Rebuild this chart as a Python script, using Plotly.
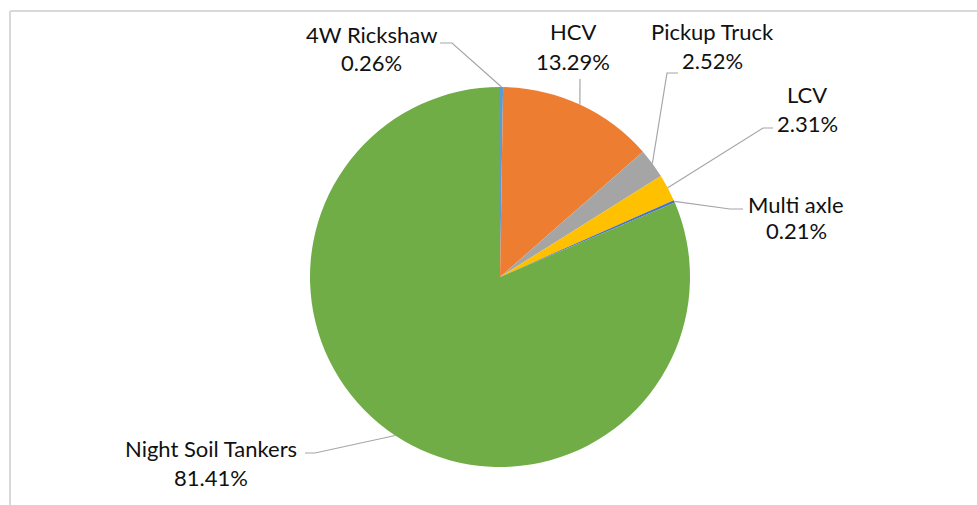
import math
import plotly.graph_objects as go

# ---- data ----
categories = ["4W Rickshaw", "HCV", "Pickup Truck", "LCV", "Multi axle", "Night Soil Tankers"]
shares = [0.26, 13.29, 2.52, 2.31, 0.21, 81.41]
colors = ["#5B9BD5", "#ED7D31", "#A5A5A5", "#FFC000", "#4472C4", "#70AD47"]

# ---- layout (pixels) ----
W, H = 977, 505
CX, CY, R = 500, 277, 190
# label centres (x, name line y, value line y) and leader elbow / end points
label_pos = {
    "4W Rickshaw": (371, 35, 62, [(452, 43), (440, 43)]),
    "HCV": (573, 32, 61, [(580, 79)]),
    "Pickup Truck": (712, 32, 60, [(667, 73), (678, 73)]),
    "LCV": (807, 95, 123, [(763, 128), (773, 128)]),
    "Multi axle": (796, 204, 231, [(730, 209), (743, 209)]),
    "Night Soil Tankers": (211, 448, 477, [(315, 453), (305, 453)]),
}

def px(x):
    return x / W

def py(y):
    return (H - y) / H

fig = go.Figure()
fig.add_trace(go.Pie(
    labels=categories, values=shares, sort=False, direction="clockwise",
    rotation=0, marker=dict(colors=colors, line=dict(width=0)),
    textinfo="none", hoverinfo="label+percent", showlegend=False,
    domain=dict(x=[px(CX - R), px(CX + R)], y=[py(CY + R), py(CY - R)]),
))

total = sum(shares)
cum = 0.0
shapes = []
annotations = []
font = dict(family="Lato, 'Open Sans', sans-serif", size=22, color="#111111")
for name, v in zip(categories, shares):
    mid = (cum + v / 2) / total * 2 * math.pi
    cum += v
    ex = CX + R * math.sin(mid)
    ey = CY - R * math.cos(mid)
    lx, ly1, ly2, pts = label_pos[name]
    path = f"M {px(ex)},{py(ey)}" + "".join(f" L {px(a)},{py(b)}" for a, b in pts)
    shapes.append(dict(type="path", xref="paper", yref="paper", path=path,
                       line=dict(color="#A6A6A6", width=1.2)))
    annotations.append(dict(x=px(lx), y=py(ly1), xref="paper", yref="paper",
                            text=name, showarrow=False, font=font,
                            xanchor="center", yanchor="middle"))
    annotations.append(dict(x=px(lx), y=py(ly2), xref="paper", yref="paper",
                            text=f"{v / total * 100:.2f}%", showarrow=False, font=font,
                            xanchor="center", yanchor="middle"))

# chart frame (top and left edges visible)
shapes.append(dict(type="line", xref="paper", yref="paper", x0=px(10), y0=py(11),
                   x1=1, y1=py(11), line=dict(color="#D9D9D9", width=2)))
shapes.append(dict(type="line", xref="paper", yref="paper", x0=px(10), y0=py(11),
                   x1=px(10), y1=0, line=dict(color="#D9D9D9", width=2)))

fig.update_layout(
    width=W, height=H, margin=dict(l=0, r=0, t=0, b=0),
    paper_bgcolor="white", plot_bgcolor="white",
    shapes=shapes, annotations=annotations,
)
fig.write_html("out.html", config={"displayModeBar": False},
               post_script="document.body.style.margin='0';document.body.style.overflow='hidden';")
